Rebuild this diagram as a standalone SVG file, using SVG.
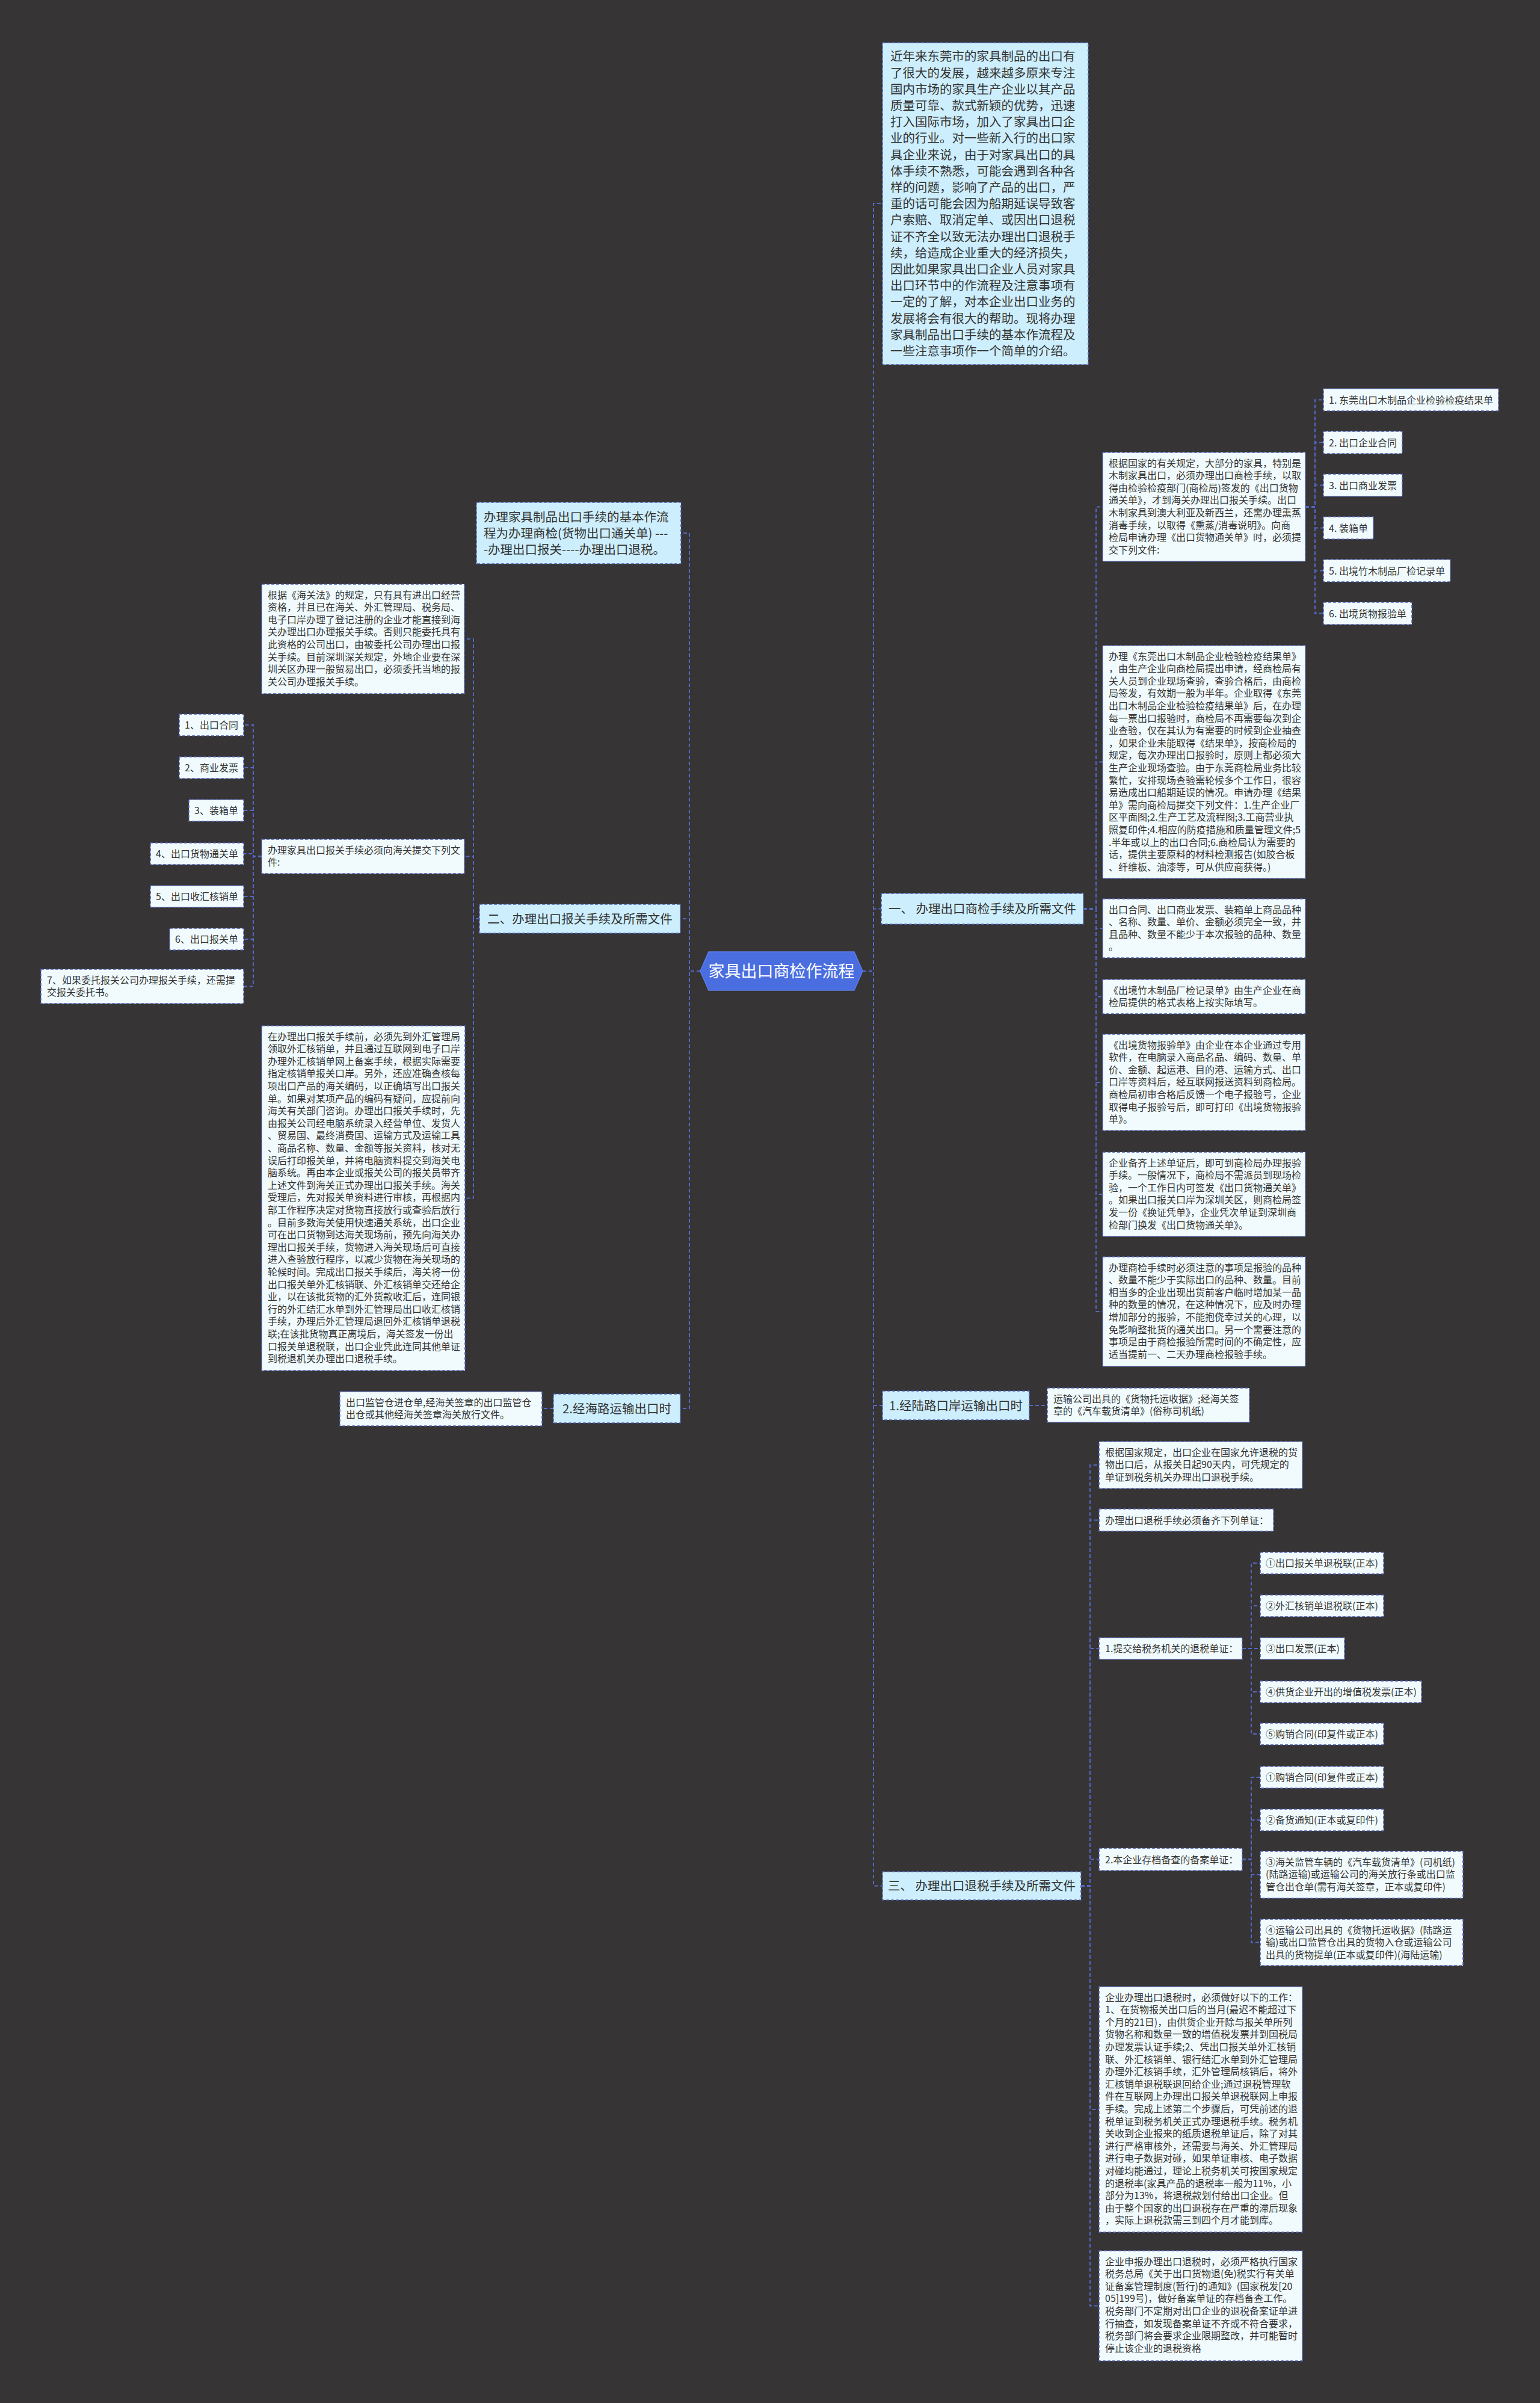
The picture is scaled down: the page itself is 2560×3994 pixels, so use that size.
<svg xmlns="http://www.w3.org/2000/svg" width="2560" height="3994" viewBox="0 0 2560 3994">
<style>
text{font-family:"Noto Sans CJK SC","Noto Sans",sans-serif;fill:#333333}
.l1{fill:#cdeefc;stroke:#4f63b5;stroke-width:1.6;stroke-dasharray:5 3}
.lf{fill:#f1fbfd;stroke:#4f63b5;stroke-width:1.6;stroke-dasharray:5 3}
.t16{font-size:16px}
.t20{font-size:20.5px}
.edge{fill:none;stroke:#5468c8;stroke-width:2;stroke-dasharray:6 4}
</style>
<rect x="0" y="0" width="2560" height="3994" fill="#363435"/>

<g id="connectors">
<path class="edge" d="M1434 1614 H1452 V338 H1467"/>
<path class="edge" d="M1434 1614 H1452 V1510.5 H1465"/>
<path class="edge" d="M1434 1614 H1452 V2336 H1467"/>
<path class="edge" d="M1434 1614 H1452 V3134.5 H1467"/>
<path class="edge" d="M1164 1614 H1146 V886 H1132"/>
<path class="edge" d="M1164 1614 H1146 V1527 H1131"/>
<path class="edge" d="M1164 1614 H1146 V2341 H1131"/>
<path class="edge" d="M1801 1510.5 H1822 V842.5 H1833"/>
<path class="edge" d="M1801 1510.5 H1822 V1266.5 H1833"/>
<path class="edge" d="M1801 1510.5 H1822 V1543 H1833"/>
<path class="edge" d="M1801 1510.5 H1822 V1656.5 H1833"/>
<path class="edge" d="M1801 1510.5 H1822 V1799 H1833"/>
<path class="edge" d="M1801 1510.5 H1822 V1985 H1833"/>
<path class="edge" d="M1801 1510.5 H1822 V2180 H1833"/>
<path class="edge" d="M2170 842.5 H2186 V664.5 H2200"/>
<path class="edge" d="M2170 842.5 H2186 V735.5 H2200"/>
<path class="edge" d="M2170 842.5 H2186 V806.5 H2200"/>
<path class="edge" d="M2170 842.5 H2186 V877.5 H2200"/>
<path class="edge" d="M2170 842.5 H2186 V948.5 H2200"/>
<path class="edge" d="M2170 842.5 H2186 V1019.5 H2200"/>
<path class="edge" d="M797 1527 H787 V1062 H772"/>
<path class="edge" d="M797 1527 H787 V1423.5 H772"/>
<path class="edge" d="M797 1527 H787 V1991.5 H773"/>
<path class="edge" d="M435 1423.5 H421 V1205 H405"/>
<path class="edge" d="M435 1423.5 H421 V1276 H405"/>
<path class="edge" d="M435 1423.5 H421 V1347 H405"/>
<path class="edge" d="M435 1423.5 H421 V1419 H405"/>
<path class="edge" d="M435 1423.5 H421 V1490 H405"/>
<path class="edge" d="M435 1423.5 H421 V1561 H405"/>
<path class="edge" d="M435 1423.5 H421 V1639.5 H405"/>
<path class="edge" d="M920 2341 H901"/>
<path class="edge" d="M1711 2336 H1741"/>
<path class="edge" d="M1797 3134.5 H1812 V2435 H1827"/>
<path class="edge" d="M1797 3134.5 H1812 V2526.5 H1827"/>
<path class="edge" d="M1797 3134.5 H1812 V2740 H1827"/>
<path class="edge" d="M1797 3134.5 H1812 V3090.5 H1827"/>
<path class="edge" d="M1797 3134.5 H1812 V3506 H1827"/>
<path class="edge" d="M1797 3134.5 H1812 V3832.5 H1827"/>
<path class="edge" d="M2065 2740 H2080 V2598 H2095"/>
<path class="edge" d="M2065 2740 H2080 V2669 H2095"/>
<path class="edge" d="M2065 2740 H2080 V2740 H2095"/>
<path class="edge" d="M2065 2740 H2080 V2812 H2095"/>
<path class="edge" d="M2065 2740 H2080 V2882 H2095"/>
<path class="edge" d="M2065 3090.5 H2080 V2954 H2095"/>
<path class="edge" d="M2065 3090.5 H2080 V3025 H2095"/>
<path class="edge" d="M2065 3090.5 H2080 V3116 H2095"/>
<path class="edge" d="M2065 3090.5 H2080 V3228.5 H2095"/>
</g>

<g id="root">
<polygon points="1164,1614 1178,1582 1420,1582 1434,1614 1420,1646 1178,1646" fill="#4a6ee0" stroke="#5b7ee8" stroke-width="1.5"/>
<text x="1299" y="1624" text-anchor="middle" style="font-size:27px;fill:#ffffff">家具出口商检作流程</text>
</g>

<g id="intro">
<rect class="l1" x="1467" y="71" width="342" height="535"/>
<text class="t20" x="1480" y="101.4">
<tspan x="1480">近年来东莞市的家具制品的出口有</tspan>
<tspan x="1480" dy="27.2">了很大的发展，越来越多原来专注</tspan>
<tspan x="1480" dy="27.2">国内市场的家具生产企业以其产品</tspan>
<tspan x="1480" dy="27.2">质量可靠、款式新颖的优势，迅速</tspan>
<tspan x="1480" dy="27.2">打入国际市场，加入了家具出口企</tspan>
<tspan x="1480" dy="27.2">业的行业。对一些新入行的出口家</tspan>
<tspan x="1480" dy="27.2">具企业来说，由于对家具出口的具</tspan>
<tspan x="1480" dy="27.2">体手续不熟悉，可能会遇到各种各</tspan>
<tspan x="1480" dy="27.2">样的问题，影响了产品的出口，严</tspan>
<tspan x="1480" dy="27.2">重的话可能会因为船期延误导致客</tspan>
<tspan x="1480" dy="27.2">户索赔、取消定单、或因出口退税</tspan>
<tspan x="1480" dy="27.2">证不齐全以致无法办理出口退税手</tspan>
<tspan x="1480" dy="27.2">续，给造成企业重大的经济损失，</tspan>
<tspan x="1480" dy="27.2">因此如果家具出口企业人员对家具</tspan>
<tspan x="1480" dy="27.2">出口环节中的作流程及注意事项有</tspan>
<tspan x="1480" dy="27.2">一定的了解，对本企业出口业务的</tspan>
<tspan x="1480" dy="27.2">发展将会有很大的帮助。现将办理</tspan>
<tspan x="1480" dy="27.2">家具制品出口手续的基本作流程及</tspan>
<tspan x="1480" dy="27.2">一些注意事项作一个简单的介绍。</tspan>
</text>
</g>

<g id="flow-summary">
<rect class="l1" x="792" y="835" width="340" height="102"/>
<text class="t20" x="804" y="867.3">
<tspan x="804">办理家具制品出口手续的基本作流</tspan>
<tspan x="804" dy="27">程为办理商检(货物出口通关单) ---</tspan>
<tspan x="804" dy="27">-办理出口报关----办理出口退税。</tspan>
</text>
</g>

<g id="b1">
<rect class="l1" x="1465" y="1485" width="336" height="51"/>
<text class="t20" x="1633" y="1518.3" text-anchor="middle">一、 办理出口商检手续及所需文件</text>
</g>
<g id="b2">
<rect class="l1" x="797" y="1503" width="334" height="48"/>
<text class="t20" x="964" y="1534.8" text-anchor="middle">二、办理出口报关手续及所需文件</text>
</g>
<g id="b-sea">
<rect class="l1" x="920" y="2317" width="211" height="48"/>
<text class="t20" x="1025.5" y="2348.8" text-anchor="middle">2.经海路运输出口时</text>
</g>
<g id="b-land">
<rect class="l1" x="1467" y="2312" width="244" height="48"/>
<text class="t20" x="1589" y="2343.8" text-anchor="middle">1.经陆路口岸运输出口时</text>
</g>
<g id="b3">
<rect class="l1" x="1467" y="3111" width="330" height="47"/>
<text class="t20" x="1632" y="3142.3" text-anchor="middle">三、 办理出口退税手续及所需文件</text>
</g>

<g id="a">
<rect class="lf" x="1833" y="752" width="337" height="181"/>
<text class="t16" x="1843" y="775.5">
<tspan x="1843">根据国家的有关规定，大部分的家具，特别是</tspan>
<tspan x="1843" dy="20.6">木制家具出口，必须办理出口商检手续，以取</tspan>
<tspan x="1843" dy="20.6">得由检验检疫部门(商检局)签发的《出口货物</tspan>
<tspan x="1843" dy="20.6">通关单》，才到海关办理出口报关手续。出口</tspan>
<tspan x="1843" dy="20.6">木制家具到澳大利亚及新西兰，还需办理熏蒸</tspan>
<tspan x="1843" dy="20.6">消毒手续，以取得《熏蒸/消毒说明》。向商</tspan>
<tspan x="1843" dy="20.6">检局申请办理《出口货物通关单》时，必须提</tspan>
<tspan x="1843" dy="20.6">交下列文件:</tspan>
</text>
</g>
<g id="a1"><rect class="lf" x="2200" y="646" width="291" height="37"/><text class="t16" x="2209" y="670.5">1. 东莞出口木制品企业检验检疫结果单</text></g>
<g id="a2"><rect class="lf" x="2200" y="717" width="131" height="37"/><text class="t16" x="2209" y="741.5">2. 出口企业合同</text></g>
<g id="a3"><rect class="lf" x="2200" y="788" width="131" height="37"/><text class="t16" x="2209" y="812.5">3. 出口商业发票</text></g>
<g id="a4"><rect class="lf" x="2200" y="859" width="83" height="37"/><text class="t16" x="2209" y="883.5">4. 装箱单</text></g>
<g id="a5"><rect class="lf" x="2200" y="930" width="211" height="37"/><text class="t16" x="2209" y="954.5">5. 出境竹木制品厂检记录单</text></g>
<g id="a6"><rect class="lf" x="2200" y="1001" width="147" height="37"/><text class="t16" x="2209" y="1025.5">6. 出境货物报验单</text></g>

<g id="b">
<rect class="lf" x="1833" y="1073" width="337" height="387"/>
<text class="t16" x="1843" y="1096.5">
<tspan x="1843">办理《东莞出口木制品企业检验检疫结果单》</tspan>
<tspan x="1843" dy="20.6">，由生产企业向商检局提出申请，经商检局有</tspan>
<tspan x="1843" dy="20.6">关人员到企业现场查验，查验合格后，由商检</tspan>
<tspan x="1843" dy="20.6">局签发，有效期一般为半年。企业取得《东莞</tspan>
<tspan x="1843" dy="20.6">出口木制品企业检验检疫结果单》后，在办理</tspan>
<tspan x="1843" dy="20.6">每一票出口报验时，商检局不再需要每次到企</tspan>
<tspan x="1843" dy="20.6">业查验，仅在其认为有需要的时候到企业抽查</tspan>
<tspan x="1843" dy="20.6">，如果企业未能取得《结果单》，按商检局的</tspan>
<tspan x="1843" dy="20.6">规定，每次办理出口报验时，原则上都必须大</tspan>
<tspan x="1843" dy="20.6">生产企业现场查验。由于东莞商检局业务比较</tspan>
<tspan x="1843" dy="20.6">繁忙，安排现场查验需轮候多个工作日，很容</tspan>
<tspan x="1843" dy="20.6">易造成出口船期延误的情况。申请办理《结果</tspan>
<tspan x="1843" dy="20.6">单》需向商检局提交下列文件：1.生产企业厂</tspan>
<tspan x="1843" dy="20.6">区平面图;2.生产工艺及流程图;3.工商营业执</tspan>
<tspan x="1843" dy="20.6">照复印件;4.相应的防疫措施和质量管理文件;5</tspan>
<tspan x="1843" dy="20.6">.半年或以上的出口合同;6.商检局认为需要的</tspan>
<tspan x="1843" dy="20.6">话，提供主要原料的材料检测报告(如胶合板</tspan>
<tspan x="1843" dy="20.6">、纤维板、油漆等，可从供应商获得。)</tspan>
</text>
</g>
<g id="c">
<rect class="lf" x="1833" y="1494" width="337" height="98"/>
<text class="t16" x="1843" y="1517.5">
<tspan x="1843">出口合同、出口商业发票、装箱单上商品品种</tspan>
<tspan x="1843" dy="20.6">、名称、数量、单价、金额必须完全一致，并</tspan>
<tspan x="1843" dy="20.6">且品种、数量不能少于本次报验的品种、数量</tspan>
<tspan x="1843" dy="20.6">。</tspan>
</text>
</g>
<g id="d">
<rect class="lf" x="1833" y="1628" width="337" height="57"/>
<text class="t16" x="1843" y="1651.5">
<tspan x="1843">《出境竹木制品厂检记录单》由生产企业在商</tspan>
<tspan x="1843" dy="20.6">检局提供的格式表格上按实际填写。</tspan>
</text>
</g>
<g id="e">
<rect class="lf" x="1833" y="1719" width="337" height="160"/>
<text class="t16" x="1843" y="1742.5">
<tspan x="1843">《出境货物报验单》由企业在本企业通过专用</tspan>
<tspan x="1843" dy="20.6">软件，在电脑录入商品名品、编码、数量、单</tspan>
<tspan x="1843" dy="20.6">价、金额、起运港、目的港、运输方式、出口</tspan>
<tspan x="1843" dy="20.6">口岸等资料后，经互联网报送资料到商检局。</tspan>
<tspan x="1843" dy="20.6">商检局初审合格后反馈一个电子报验号，企业</tspan>
<tspan x="1843" dy="20.6">取得电子报验号后，即可打印《出境货物报验</tspan>
<tspan x="1843" dy="20.6">单》。</tspan>
</text>
</g>
<g id="f">
<rect class="lf" x="1833" y="1915" width="337" height="140"/>
<text class="t16" x="1843" y="1938.5">
<tspan x="1843">企业备齐上述单证后，即可到商检局办理报验</tspan>
<tspan x="1843" dy="20.6">手续。一般情况下，商检局不需派员到现场检</tspan>
<tspan x="1843" dy="20.6">验，一个工作日内可签发《出口货物通关单》</tspan>
<tspan x="1843" dy="20.6">。如果出口报关口岸为深圳关区，则商检局签</tspan>
<tspan x="1843" dy="20.6">发一份《换证凭单》，企业凭次单证到深圳商</tspan>
<tspan x="1843" dy="20.6">检部门换发《出口货物通关单》。</tspan>
</text>
</g>
<g id="g">
<rect class="lf" x="1833" y="2089" width="337" height="182"/>
<text class="t16" x="1843" y="2112.5">
<tspan x="1843">办理商检手续时必须注意的事项是报验的品种</tspan>
<tspan x="1843" dy="20.6">、数量不能少于实际出口的品种、数量。目前</tspan>
<tspan x="1843" dy="20.6">相当多的企业出现出货前客户临时增加某一品</tspan>
<tspan x="1843" dy="20.6">种的数量的情况，在这种情况下，应及时办理</tspan>
<tspan x="1843" dy="20.6">增加部分的报验，不能抱侥幸过关的心理，以</tspan>
<tspan x="1843" dy="20.6">免影响整批货的通关出口。另一个需要注意的</tspan>
<tspan x="1843" dy="20.6">事项是由于商检报验所需时间的不确定性，应</tspan>
<tspan x="1843" dy="20.6">适当提前一、二天办理商检报验手续。</tspan>
</text>
</g>

<g id="h">
<rect class="lf" x="435" y="971" width="337" height="182"/>
<text class="t16" x="445" y="994.5">
<tspan x="445">根据《海关法》的规定，只有具有进出口经营</tspan>
<tspan x="445" dy="20.6">资格，并且已在海关、外汇管理局、税务局、</tspan>
<tspan x="445" dy="20.6">电子口岸办理了登记注册的企业才能直接到海</tspan>
<tspan x="445" dy="20.6">关办理出口办理报关手续。否则只能委托具有</tspan>
<tspan x="445" dy="20.6">此资格的公司出口，由被委托公司办理出口报</tspan>
<tspan x="445" dy="20.6">关手续。目前深圳深关规定，外地企业要在深</tspan>
<tspan x="445" dy="20.6">圳关区办理一般贸易出口，必须委托当地的报</tspan>
<tspan x="445" dy="20.6">关公司办理报关手续。</tspan>
</text>
</g>
<g id="i">
<rect class="lf" x="435" y="1395" width="337" height="57"/>
<text class="t16" x="445" y="1418.5">
<tspan x="445">办理家具出口报关手续必须向海关提交下列文</tspan>
<tspan x="445" dy="20.6">件:</tspan>
</text>
</g>
<g id="i1"><rect class="lf" x="298" y="1187" width="107" height="36"/><text class="t16" x="307" y="1211">1、出口合同</text></g>
<g id="i2"><rect class="lf" x="298" y="1258" width="107" height="36"/><text class="t16" x="307" y="1282">2、商业发票</text></g>
<g id="i3"><rect class="lf" x="314" y="1329" width="91" height="36"/><text class="t16" x="323" y="1353">3、装箱单</text></g>
<g id="i4"><rect class="lf" x="250" y="1401" width="155" height="36"/><text class="t16" x="259" y="1425">4、出口货物通关单</text></g>
<g id="i5"><rect class="lf" x="250" y="1472" width="155" height="36"/><text class="t16" x="259" y="1496">5、出口收汇核销单</text></g>
<g id="i6"><rect class="lf" x="282" y="1543" width="123" height="36"/><text class="t16" x="291" y="1567">6、出口报关单</text></g>
<g id="i7">
<rect class="lf" x="68" y="1611" width="337" height="57"/>
<text class="t16" x="78" y="1634.5">
<tspan x="78">7、如果委托报关公司办理报关手续，还需提</tspan>
<tspan x="78" dy="20.6">交报关委托书。</tspan>
</text>
</g>
<g id="j">
<rect class="lf" x="435" y="1705" width="338" height="573"/>
<text class="t16" x="445" y="1728.5">
<tspan x="445">在办理出口报关手续前，必须先到外汇管理局</tspan>
<tspan x="445" dy="20.6">领取外汇核销单，并且通过互联网到电子口岸</tspan>
<tspan x="445" dy="20.6">办理外汇核销单网上备案手续，根据实际需要</tspan>
<tspan x="445" dy="20.6">指定核销单报关口岸。另外，还应准确查核每</tspan>
<tspan x="445" dy="20.6">项出口产品的海关编码，以正确填写出口报关</tspan>
<tspan x="445" dy="20.6">单。如果对某项产品的编码有疑问，应提前向</tspan>
<tspan x="445" dy="20.6">海关有关部门咨询。办理出口报关手续时，先</tspan>
<tspan x="445" dy="20.6">由报关公司经电脑系统录入经营单位、发货人</tspan>
<tspan x="445" dy="20.6">、贸易国、最终消费国、运输方式及运输工具</tspan>
<tspan x="445" dy="20.6">、商品名称、数量、金额等报关资料，核对无</tspan>
<tspan x="445" dy="20.6">误后打印报关单，并将电脑资料提交到海关电</tspan>
<tspan x="445" dy="20.6">脑系统。再由本企业或报关公司的报关员带齐</tspan>
<tspan x="445" dy="20.6">上述文件到海关正式办理出口报关手续。海关</tspan>
<tspan x="445" dy="20.6">受理后，先对报关单资料进行审核，再根据内</tspan>
<tspan x="445" dy="20.6">部工作程序决定对货物直接放行或查验后放行</tspan>
<tspan x="445" dy="20.6">。目前多数海关使用快速通关系统，出口企业</tspan>
<tspan x="445" dy="20.6">可在出口货物到达海关现场前，预先向海关办</tspan>
<tspan x="445" dy="20.6">理出口报关手续，货物进入海关现场后可直接</tspan>
<tspan x="445" dy="20.6">进入查验放行程序，以减少货物在海关现场的</tspan>
<tspan x="445" dy="20.6">轮候时间。完成出口报关手续后，海关将一份</tspan>
<tspan x="445" dy="20.6">出口报关单外汇核销联、外汇核销单交还给企</tspan>
<tspan x="445" dy="20.6">业，以在该批货物的汇外货款收汇后，连同银</tspan>
<tspan x="445" dy="20.6">行的外汇结汇水单到外汇管理局出口收汇核销</tspan>
<tspan x="445" dy="20.6">手续，办理后外汇管理局退回外汇核销单退税</tspan>
<tspan x="445" dy="20.6">联;在该批货物真正离境后，海关签发一份出</tspan>
<tspan x="445" dy="20.6">口报关单退税联，出口企业凭此连同其他单证</tspan>
<tspan x="445" dy="20.6">到税退机关办理出口退税手续。</tspan>
</text>
</g>
<g id="k">
<rect class="lf" x="565" y="2313" width="336" height="57"/>
<text class="t16" x="575" y="2336.5">
<tspan x="575">出口监管仓进仓单,经海关签章的出口监管仓</tspan>
<tspan x="575" dy="20.6">出仓或其他经海关签章海关放行文件。</tspan>
</text>
</g>
<g id="land-doc">
<rect class="lf" x="1741" y="2307" width="336" height="57"/>
<text class="t16" x="1751" y="2330.5">
<tspan x="1751">运输公司出具的《货物托运收据》;经海关签</tspan>
<tspan x="1751" dy="20.6">章的《汽车载货清单》(俗称司机纸)</tspan>
</text>
</g>

<g id="m">
<rect class="lf" x="1827" y="2396" width="338" height="78"/>
<text class="t16" x="1837" y="2419.5">
<tspan x="1837">根据国家规定，出口企业在国家允许退税的货</tspan>
<tspan x="1837" dy="20.6">物出口后，从报关日起90天内，可凭规定的</tspan>
<tspan x="1837" dy="20.6">单证到税务机关办理出口退税手续。</tspan>
</text>
</g>
<g id="n"><rect class="lf" x="1827" y="2508" width="290" height="37"/><text class="t16" x="1837" y="2532.5">办理出口退税手续必须备齐下列单证：</text></g>
<g id="o"><rect class="lf" x="1827" y="2722" width="238" height="36"/><text class="t16" x="1837" y="2746">1.提交给税务机关的退税单证：</text></g>
<g id="o1"><rect class="lf" x="2095" y="2580" width="205" height="36"/><text class="t16" x="2104" y="2604">①出口报关单退税联(正本)</text></g>
<g id="o2"><rect class="lf" x="2095" y="2651" width="205" height="36"/><text class="t16" x="2104" y="2675">②外汇核销单退税联(正本)</text></g>
<g id="o3"><rect class="lf" x="2095" y="2722" width="140" height="36"/><text class="t16" x="2104" y="2746">③出口发票(正本)</text></g>
<g id="o4"><rect class="lf" x="2095" y="2794" width="268" height="36"/><text class="t16" x="2104" y="2818">④供货企业开出的增值税发票(正本)</text></g>
<g id="o5"><rect class="lf" x="2095" y="2864" width="205" height="36"/><text class="t16" x="2104" y="2888">⑤购销合同(印复件或正本)</text></g>
<g id="p"><rect class="lf" x="1827" y="3072" width="238" height="37"/><text class="t16" x="1837" y="3096.5">2.本企业存档备查的备案单证：</text></g>
<g id="p1"><rect class="lf" x="2095" y="2936" width="205" height="36"/><text class="t16" x="2104" y="2960">①购销合同(印复件或正本)</text></g>
<g id="p2"><rect class="lf" x="2095" y="3007" width="205" height="36"/><text class="t16" x="2104" y="3031">②备货通知(正本或复印件)</text></g>
<g id="p3">
<rect class="lf" x="2095" y="3077" width="337" height="78"/>
<text class="t16" x="2104" y="3100.5">
<tspan x="2104">③海关监管车辆的《汽车载货清单》(司机纸)</tspan>
<tspan x="2104" dy="20.6">(陆路运输)或运输公司的海关放行条或出口监</tspan>
<tspan x="2104" dy="20.6">管仓出仓单(需有海关签章，正本或复印件)</tspan>
</text>
</g>
<g id="p4">
<rect class="lf" x="2095" y="3190" width="337" height="77"/>
<text class="t16" x="2104" y="3213.5">
<tspan x="2104">④运输公司出具的《货物托运收据》(陆路运</tspan>
<tspan x="2104" dy="20.6">输)或出口监管仓出具的货物入仓或运输公司</tspan>
<tspan x="2104" dy="20.6">出具的货物提单(正本或复印件)(海陆运输)</tspan>
</text>
</g>
<g id="q">
<rect class="lf" x="1827" y="3302" width="338" height="408"/>
<text class="t16" x="1837" y="3325.5">
<tspan x="1837">企业办理出口退税时，必须做好以下的工作：</tspan>
<tspan x="1837" dy="20.6">1、在货物报关出口后的当月(最迟不能超过下</tspan>
<tspan x="1837" dy="20.6">个月的21日)，由供货企业开除与报关单所列</tspan>
<tspan x="1837" dy="20.6">货物名称和数量一致的增值税发票并到国税局</tspan>
<tspan x="1837" dy="20.6">办理发票认证手续;2、凭出口报关单外汇核销</tspan>
<tspan x="1837" dy="20.6">联、外汇核销单、银行结汇水单到外汇管理局</tspan>
<tspan x="1837" dy="20.6">办理外汇核销手续，汇外管理局核销后，将外</tspan>
<tspan x="1837" dy="20.6">汇核销单退税联退回给企业;通过退税管理软</tspan>
<tspan x="1837" dy="20.6">件在互联网上办理出口报关单退税联网上申报</tspan>
<tspan x="1837" dy="20.6">手续。完成上述第二个步骤后，可凭前述的退</tspan>
<tspan x="1837" dy="20.6">税单证到税务机关正式办理退税手续。税务机</tspan>
<tspan x="1837" dy="20.6">关收到企业报来的纸质退税单证后，除了对其</tspan>
<tspan x="1837" dy="20.6">进行严格审核外，还需要与海关、外汇管理局</tspan>
<tspan x="1837" dy="20.6">进行电子数据对碰，如果单证审核、电子数据</tspan>
<tspan x="1837" dy="20.6">对碰均能通过，理论上税务机关可按国家规定</tspan>
<tspan x="1837" dy="20.6">的退税率(家具产品的退税率一般为11%，小</tspan>
<tspan x="1837" dy="20.6">部分为13%，将退税款划付给出口企业。但</tspan>
<tspan x="1837" dy="20.6">由于整个国家的出口退税存在严重的滞后现象</tspan>
<tspan x="1837" dy="20.6">，实际上退税款需三到四个月才能到库。</tspan>
</text>
</g>
<g id="r">
<rect class="lf" x="1827" y="3741" width="338" height="183"/>
<text class="t16" x="1837" y="3764.5">
<tspan x="1837">企业申报办理出口退税时，必须严格执行国家</tspan>
<tspan x="1837" dy="20.6">税务总局《关于出口货物退(免)税实行有关单</tspan>
<tspan x="1837" dy="20.6">证备案管理制度(暂行)的通知》(国家税发[20</tspan>
<tspan x="1837" dy="20.6">05]199号)，做好备案单证的存档备查工作。</tspan>
<tspan x="1837" dy="20.6">税务部门不定期对出口企业的退税备案证单进</tspan>
<tspan x="1837" dy="20.6">行抽查，如发现备案单证不齐或不符合要求，</tspan>
<tspan x="1837" dy="20.6">税务部门将会要求企业限期整改，并可能暂时</tspan>
<tspan x="1837" dy="20.6">停止该企业的退税资格</tspan>
</text>
</g>
</svg>
